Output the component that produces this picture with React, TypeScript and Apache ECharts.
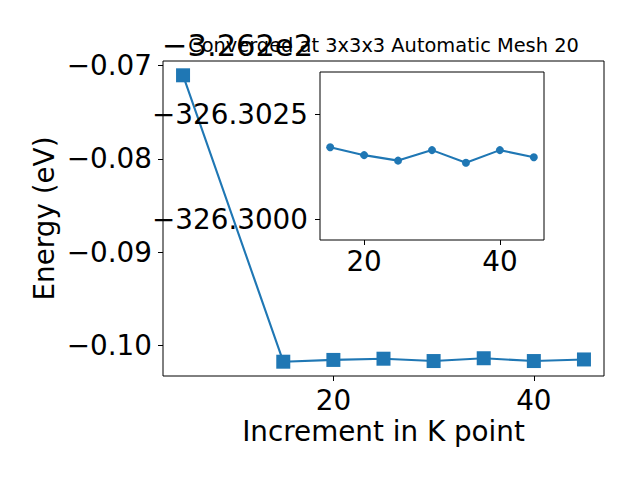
import React, { useEffect, useRef } from "react";
import * as echarts from "echarts";

const kPoints = [5, 15, 20, 25, 30, 35, 40, 45];
const energies = [-326.27107, -326.30171, -326.30152, -326.30139, -326.30164, -326.30134, -326.30164, -326.30147];
const insetK = kPoints.slice(1);
const insetE = energies.slice(1);
const offsetValue = -326.2;
const offsetLabel = "\u22123.262e2";
const mainYTicks = [-0.1, -0.09, -0.08, -0.07];
const xTicks = [20, 40];
const insetYTicks = [-326.3025, -326.3];
const titleText = "Converged at 3x3x3 Automatic Mesh 20";
const xLabel = "Increment in K point";
const yLabel = "Energy (eV)";

const FONT = "DejaVu Sans";
const BLUE = "#1f77b4";
const BIG = 27.8;

const fmt = (d: number) => (v: number) => (v < 0 ? "\u2212" : "") + Math.abs(v).toFixed(d);

export default function App() {
  const ref = useRef<HTMLDivElement>(null);
  useEffect(() => {
    if (!ref.current) return;
    const chart = echarts.init(ref.current, null, { renderer: "svg" });
    const tick = { show: true, length: 5, inside: false, lineStyle: { color: "#000", width: 1 } };
    const lbl = { fontFamily: FONT, fontSize: BIG, color: "#000" };
    chart.setOption({
      animation: false,
      backgroundColor: "#fff",
      grid: [
        { left: 163, top: 61, width: 441, height: 315, show: true, borderColor: "#000", borderWidth: 1, backgroundColor: "transparent", containLabel: false },
        { left: 320, top: 72, width: 224, height: 168, show: true, borderColor: "#000", borderWidth: 1, backgroundColor: "#fff", containLabel: false, z: 5 },
      ],
      xAxis: [
        {
          type: "value", gridIndex: 0, min: 3, max: 47,
          axisLine: { show: false }, splitLine: { show: false },
          axisTick: { ...tick, customValues: xTicks },
          axisLabel: { ...lbl, margin: 10, customValues: xTicks, formatter: (v: number) => String(v) },
        },
        {
          type: "value", gridIndex: 1, min: 13.5, max: 46.5,
          axisLine: { show: false }, splitLine: { show: false },
          axisTick: { ...tick, customValues: xTicks },
          axisLabel: { ...lbl, margin: 7, customValues: xTicks, formatter: (v: number) => String(v) },
          z: 5,
        },
      ],
      yAxis: [
        {
          type: "value", gridIndex: 0, min: -0.10324, max: -0.06954,
          axisLine: { show: false }, splitLine: { show: false },
          axisTick: { ...tick, customValues: mainYTicks },
          axisLabel: { ...lbl, margin: 11, customValues: mainYTicks, formatter: fmt(2) },
        },
        {
          type: "value", gridIndex: 1, min: -326.3035, max: -326.2995, inverse: true,
          axisLine: { show: false }, splitLine: { show: false },
          axisTick: { ...tick, customValues: insetYTicks },
          axisLabel: { ...lbl, margin: 12, customValues: insetYTicks, formatter: fmt(4) },
          z: 5,
        },
      ],
      series: [
        {
          type: "line", xAxisIndex: 0, yAxisIndex: 0,
          data: kPoints.map((k, i) => [k, energies[i] - offsetValue]),
          symbol: "rect", symbolSize: 14,
          lineStyle: { color: BLUE, width: 2.1 },
          itemStyle: { color: BLUE },
          z: 2,
        },
        {
          type: "line", xAxisIndex: 1, yAxisIndex: 1,
          data: insetK.map((k, i) => [k, insetE[i]]),
          symbol: "circle", symbolSize: 8,
          lineStyle: { color: BLUE, width: 2.1 },
          itemStyle: { color: BLUE },
          z: 6,
        },
      ],
      graphic: [
        { type: "text", x: 383.5, y: 45, z: 10, style: { text: titleText, fontFamily: FONT, fontSize: 19.4, fill: "#000", align: "center", verticalAlign: "middle" } },
        { type: "text", x: 162, y: 45, z: 11, style: { text: offsetLabel, fontFamily: FONT, fontSize: 30.5, fill: "#000", align: "left", verticalAlign: "middle" } },
        { type: "text", x: 383.5, y: 431, z: 10, style: { text: xLabel, fontFamily: FONT, fontSize: BIG, fill: "#000", align: "center", verticalAlign: "middle" } },
        { type: "text", x: 44, y: 218.5, rotation: Math.PI / 2, z: 10, style: { text: yLabel, fontFamily: FONT, fontSize: BIG, fill: "#000", align: "center", verticalAlign: "middle" } },
      ],
    });
    return () => chart.dispose();
  }, []);
  return <div ref={ref} style={{ width: 640, height: 480, position: "absolute", left: 0, top: 0 }} />;
}
